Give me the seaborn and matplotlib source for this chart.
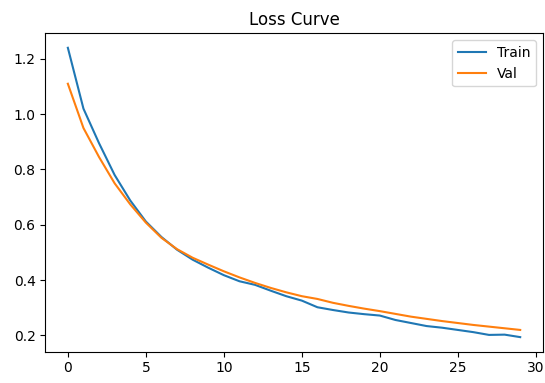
import matplotlib
matplotlib.use("Agg")
from matplotlib import pyplot as plt
import seaborn as sns
import numpy as np

epochs = list(range(30))
train_loss = [1.24, 1.02, 0.895, 0.78, 0.688, 0.612, 0.556, 0.51, 0.474, 0.445,
              0.418, 0.396, 0.383, 0.362, 0.342, 0.326, 0.302, 0.292, 0.283, 0.277,
              0.272, 0.256, 0.245, 0.234, 0.228, 0.220, 0.212, 0.202, 0.203, 0.194]
val_loss = [1.11, 0.95, 0.845, 0.75, 0.674, 0.608, 0.553, 0.512, 0.481, 0.456,
            0.432, 0.41, 0.39, 0.372, 0.356, 0.342, 0.332, 0.318, 0.307, 0.297,
            0.288, 0.278, 0.268, 0.26, 0.252, 0.245, 0.238, 0.232, 0.226, 0.22]

fig, ax = plt.subplots(figsize=(5.45, 3.83), dpi=100)
fig.subplots_adjust(left=0.083, right=0.996, bottom=0.082, top=0.913)

sns.lineplot(x=epochs, y=train_loss, ax=ax, label="Train", color="tab:blue")
sns.lineplot(x=epochs, y=val_loss, ax=ax, label="Val", color="tab:orange")

ax.set_title("Loss Curve")
ax.set_xticks([0, 5, 10, 15, 20, 25, 30])
ax.legend(loc="upper right")

plt.savefig("out.png", dpi=100)
